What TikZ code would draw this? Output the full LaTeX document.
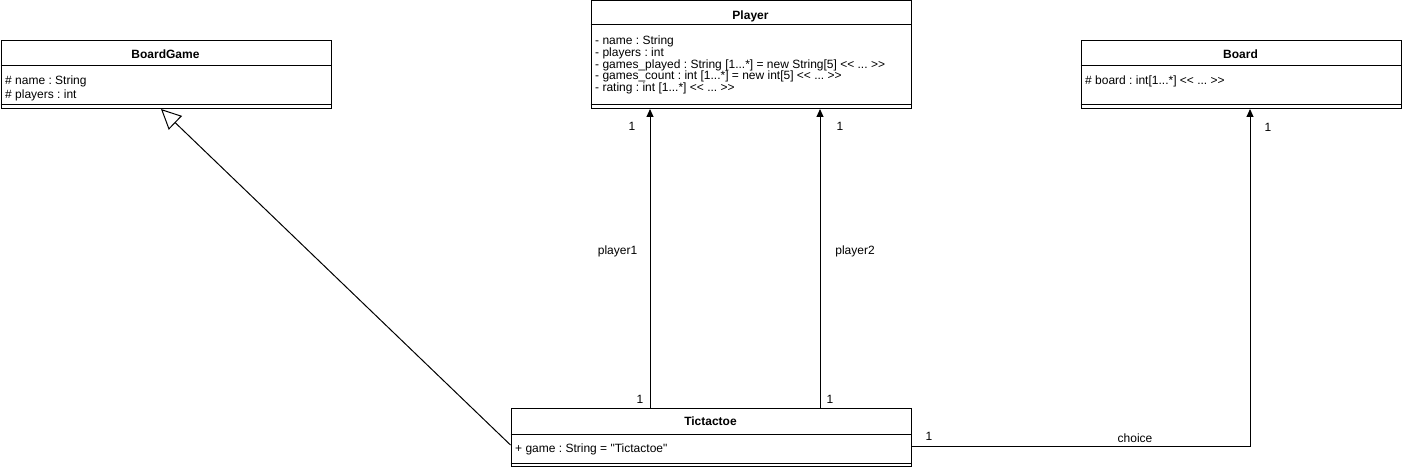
\documentclass[tikz,border=0pt]{standalone}
\usepackage{fontspec}
\setmainfont{Liberation Sans}[Ligatures=TeXOff]
\usetikzlibrary{arrows.meta}
\frenchspacing
\begin{document}
\begin{tikzpicture}[x=1pt,y=-1pt,
  box/.style={draw,line width=1pt,inner sep=0,anchor=north west},
  sep/.style={line width=1pt},
  txt/.style={inner sep=0,anchor=base west,font=\fontsize{12}{14}\selectfont\frenchspacing},
  ttl/.style={inner sep=0,anchor=base,font=\fontsize{12}{14}\selectfont\bfseries},
  lbl/.style={inner sep=0,anchor=base,font=\fontsize{12}{14}\selectfont},
  assoc/.style={line width=1pt,-{Triangle[length=8pt,width=7pt]}},
  inherit/.style={line width=1pt,-{Triangle[open,length=20pt,width=19pt,line width=1pt]}}]
\useasboundingbox (0,0) rectangle (1402,468);

% BoardGame
\node[box,minimum width=330pt,minimum height=68pt] (bg) at (0.5,40) {};
\draw[sep] ([yshift=-26pt]bg.north west) -- ([yshift=-26pt]bg.north east);
\draw[sep] ([yshift=4pt]bg.south west) -- ([yshift=4pt]bg.south east);
\node[ttl] (bgt) at (165.5,58.3) {BoardGame};
\node[txt] (bga1) at (5,84.5) {\# name : String};
\node[txt] (bga2) at (5,98.5) {\# players : int};

% Player
\node[box,minimum width=320pt,minimum height=107.5pt] (player) at (590.5,0.5) {};
\draw[sep] ([yshift=-24.5pt]player.north west) -- ([yshift=-24.5pt]player.north east);
\draw[sep] ([yshift=4pt]player.south west) -- ([yshift=4pt]player.south east);
\node[ttl] (plt) at (750.5,19.5) {Player};
\node[txt] (pla1) at (595,44.5) {- name : String};
\node[txt] (pla2) at (595,56.3) {- players : int};
\node[txt] (pla3) at (595,68.2) {- games\_played : String [1...*] = new String[5] << ... >>};
\node[txt] (pla4) at (595,80) {- games\_count : int [1...*] = new int[5] << ... >>};
\node[txt] (pla5) at (595,91.8) {- rating : int [1...*] << ... >>};

% Board
\node[box,minimum width=320pt,minimum height=68pt] (board) at (1080.5,40) {};
\draw[sep] ([yshift=-26pt]board.north west) -- ([yshift=-26pt]board.north east);
\draw[sep] ([yshift=4pt]board.south west) -- ([yshift=4pt]board.south east);
\node[ttl] (bdt) at (1240.5,58.3) {Board};
\node[txt] (bda1) at (1085,84.5) {\# board : int[1...*] << ... >>};

% Tictactoe
\node[box,minimum width=400pt,minimum height=58pt] (ttt) at (510.5,408) {};
\draw[sep] ([yshift=-26pt]ttt.north west) -- ([yshift=-26pt]ttt.north east);
\draw[sep] ([yshift=4pt]ttt.south west) -- ([yshift=4pt]ttt.south east);
\node[ttl] (ttt1) at (710.5,425.7) {Tictactoe};
\node[txt] (ttta1) at (515,452.5) {+ game : String = "Tictactoe"};

% connectors
\coordinate (c1) at (650,0);
\coordinate (c2) at (820,0);
\coordinate (c3) at (1250,0);
\coordinate (c4) at (0,446);
\coordinate (c5) at (0,445);
\coordinate (c6) at (161,0);
\draw[assoc] (ttt.north -| c1) -- (player.south -| c1);
\draw[assoc] (ttt.north -| c2) -- (player.south -| c2);
\draw[assoc] (ttt.east |- c4) -| (board.south -| c3);
\draw[inherit] (ttt.west |- c5) -- (bg.south -| c6);

% labels
\node[lbl] (l1) at (632,131) {1};
\node[lbl] (l2) at (840,131) {1};
\node[lbl] (l3) at (1268,131.5) {1};
\node[lbl] (l4) at (640,403) {1};
\node[lbl] (l5) at (830,403) {1};
\node[lbl] (l6) at (929,440) {1};
\node[lbl] (lp1) at (617.5,254) {player1};
\node[lbl] (lp2) at (855,254) {player2};
\node[lbl] (lch) at (1135,442) {choice};
\end{tikzpicture}
\end{document}
